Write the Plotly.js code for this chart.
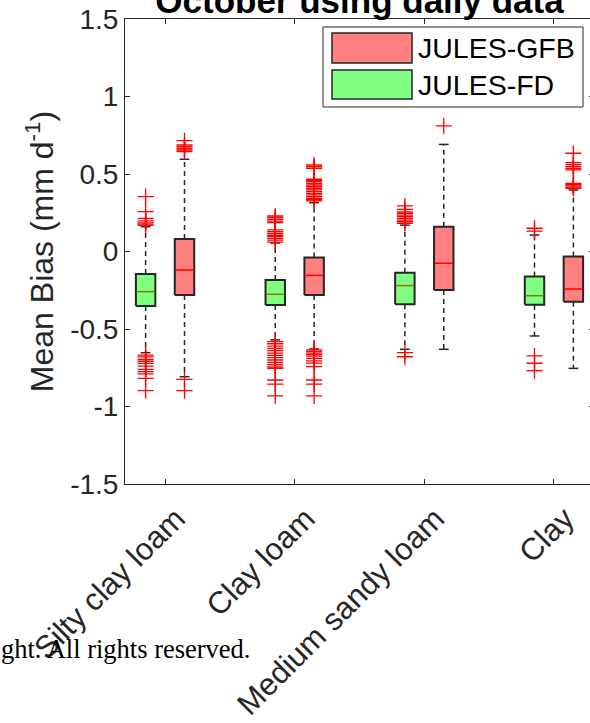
<!DOCTYPE html>
<html>
<head>
<meta charset="utf-8">
<script src="https://cdn.plot.ly/plotly-3.0.1.min.js"></script>
<style>
  html, body { margin: 0; padding: 0; overflow: hidden; background: #fff; width: 590px; height: 723px; }
  #chart { position: absolute; left: 0; top: -40px; width: 594px; height: 763px; }
</style>
</head>
<body>
<div id="chart"></div>
<script>
// ---------- data ----------
const categories = ['Silty clay loam', 'Clay loam', 'Medium sandy loam', 'Clay'];
const seriesNames = ['JULES-GFB', 'JULES-FD'];
const yTickVals = [-1.5, -1, -0.5, 0, 0.5, 1, 1.5];
const yTickText = ['-1.5', '-1', '-0.5', '0', '0.5', '1', '1.5'];

// JULES-GFB (red boxes)
const gfbQ1 = [-0.281, -0.281, -0.248, -0.324];
const gfbMedian = [-0.119, -0.154, -0.076, -0.242];
const gfbQ3 = [0.081, -0.038, 0.160, -0.033];
const gfbLowWhisker = [-0.808, -0.629, -0.631, -0.754];
const gfbHighWhisker = [0.595, 0.315, 0.691, 0.397];
const gfbOutliers = [
  [0.715, 0.687, 0.676, 0.666, 0.655, 0.644, -0.825, -0.898],
  [0.558, 0.547, 0.537, 0.466, 0.458, 0.451, 0.440, 0.429, 0.418, 0.408, 0.397, 0.386, 0.375, 0.365, 0.354, 0.343, 0.334, 0.326,
   -0.635, -0.645, -0.655, -0.665, -0.675, -0.690, -0.705, -0.720, -0.743, -0.829, -0.855, -0.932],
  [0.810],
  [0.634, 0.573, 0.560, 0.547, 0.536, 0.526, 0.440, 0.432, 0.423, 0.415, 0.408]
];

// JULES-FD (green boxes)
const fdQ1 = [-0.352, -0.345, -0.341, -0.343];
const fdMedian = [-0.259, -0.276, -0.220, -0.285];
const fdQ3 = [-0.145, -0.184, -0.137, -0.162];
const fdLowWhisker = [-0.653, -0.570, -0.631, -0.545];
const fdHighWhisker = [0.160, 0.055, 0.170, 0.106];
const fdOutliers = [
  [0.354, 0.257, 0.214, 0.197, 0.185, 0.177, 0.168,
   -0.668, -0.680, -0.696, -0.708, -0.722, -0.740, -0.760, -0.775, -0.790, -0.818, -0.898],
  [0.229, 0.220, 0.208, 0.196, 0.186, 0.139, 0.128, 0.117, 0.105, 0.096, 0.085, 0.074, 0.061,
   -0.582, -0.595, -0.610, -0.625, -0.640, -0.655, -0.670, -0.685, -0.700, -0.715, -0.730, -0.745, -0.754, -0.829, -0.855, -0.932],
  [0.294, 0.272, 0.255, 0.246, 0.235, 0.225, 0.214, 0.203, 0.192, 0.182, -0.653, -0.679],
  [0.150, 0.132, -0.674, -0.721, -0.769]
];

// ---------- styling ----------
const FONT = '"Liberation Sans", Arial, Helvetica, sans-serif';
const AX = '#262626';
const series = [
  { name: seriesNames[0], q1: gfbQ1, med: gfbMedian, q3: gfbQ3, lo: gfbLowWhisker, hi: gfbHighWhisker, out: gfbOutliers,
    offset: 0.15, fill: '#FF8080', medColor: '#FF0000' },
  { name: seriesNames[1], q1: fdQ1, med: fdMedian, q3: fdQ3, lo: fdLowWhisker, hi: fdHighWhisker, out: fdOutliers,
    offset: -0.15, fill: '#80FF80', medColor: '#808000' }
];
const boxW = 0.15, capW = 0.075;

const traces = [];
series.forEach(s => {
  categories.forEach((c, i) => {
    const x = i + 1 + s.offset;
    // dashed whiskers
    traces.push({ type: 'scatter', mode: 'lines', x: [x, x, null, x, x], y: [s.q3[i], s.hi[i], null, s.q1[i], s.lo[i]],
      line: { color: AX, width: 1.5, dash: '5px,4px' }, hoverinfo: 'skip', showlegend: false });
    // whisker caps
    traces.push({ type: 'scatter', mode: 'lines', x: [x - capW / 2, x + capW / 2, null, x - capW / 2, x + capW / 2],
      y: [s.hi[i], s.hi[i], null, s.lo[i], s.lo[i]], line: { color: AX, width: 1.5 }, hoverinfo: 'skip', showlegend: false });
    // box
    traces.push({ type: 'scatter', mode: 'lines', fill: 'toself', fillcolor: s.fill,
      x: [x - boxW / 2, x + boxW / 2, x + boxW / 2, x - boxW / 2, x - boxW / 2],
      y: [s.q1[i], s.q1[i], s.q3[i], s.q3[i], s.q1[i]],
      line: { color: AX, width: 2 }, hoverinfo: 'skip', showlegend: false });
    // median
    traces.push({ type: 'scatter', mode: 'lines', x: [x - boxW / 2 + 0.004, x + boxW / 2 - 0.004], y: [s.med[i], s.med[i]],
      line: { color: s.medColor, width: 1.5 }, hoverinfo: 'skip', showlegend: false });
    // outliers
    traces.push({ type: 'scatter', mode: 'markers', x: s.out[i].map(() => x), y: s.out[i],
      marker: { symbol: 'cross-thin', size: 11.5, color: '#FF0000', line: { color: '#FF0000', width: 1.3 } },
      hoverinfo: 'skip', showlegend: false });
  });
});

// legend drawn in paper coordinates
const px = v => (v - 125) / 469;
const py = v => (484 - v) / 465;
const shapes = [
  { type: 'rect', xref: 'paper', yref: 'paper', x0: px(323), x1: px(583), y0: py(107), y1: py(27),
    fillcolor: '#FFFFFF', line: { color: AX, width: 1 } },
  { type: 'rect', xref: 'paper', yref: 'paper', x0: px(332), x1: px(412), y0: py(63), y1: py(33),
    fillcolor: series[0].fill, line: { color: AX, width: 1.5 } },
  { type: 'rect', xref: 'paper', yref: 'paper', x0: px(332), x1: px(412), y0: py(99), y1: py(70),
    fillcolor: series[1].fill, line: { color: AX, width: 1.5 } }
];
const annotations = [
  { text: series[0].name, xref: 'paper', yref: 'paper', x: px(416), y: py(48), xanchor: 'left', yanchor: 'middle',
    showarrow: false, font: { family: FONT, size: 28.5, color: '#000' } },
  { text: series[1].name, xref: 'paper', yref: 'paper', x: px(416), y: py(84.5), xanchor: 'left', yanchor: 'middle',
    showarrow: false, font: { family: FONT, size: 28.5, color: '#000' } },
  { text: 'ght. All rights reserved.', xref: 'paper', yref: 'paper', x: px(-1), y: py(649), xanchor: 'left', yanchor: 'middle',
    showarrow: false, font: { family: '"Liberation Serif", "Times New Roman", serif', size: 26.5, color: '#000' } }
];

const layout = {
  width: 594, height: 763,
  margin: { l: 125, r: 0, t: 59, b: 239, pad: 0 },
  paper_bgcolor: '#FFFFFF', plot_bgcolor: '#FFFFFF',
  font: { family: FONT, color: AX },
  showlegend: false,
  title: { text: '<b>October using daily data</b>', font: { family: FONT, size: 35, color: '#000' },
    xref: 'paper', x: 0.5, xanchor: 'center', yref: 'paper', y: 1, yanchor: 'bottom', pad: { b: 6 } },
  xaxis: {
    range: [0.691, 4.309], tickvals: [1, 2, 3, 4], ticktext: categories, tickangle: -45,
    ticks: 'inside', ticklen: 5, tickcolor: AX, tickwidth: 1,
    showline: true, linecolor: AX, linewidth: 1, mirror: 'ticks', showgrid: false, zeroline: false,
    tickfont: { family: FONT, size: 31, color: AX }, ticklabelshift: 11, ticklabelstandoff: 3
  },
  yaxis: {
    range: [-1.5, 1.5], tickvals: yTickVals, ticktext: yTickText,
    ticks: 'inside', ticklen: 5, tickcolor: AX, tickwidth: 1,
    showline: true, linecolor: AX, linewidth: 1, mirror: 'ticks', showgrid: false, zeroline: false,
    tickfont: { family: FONT, size: 28, color: AX },
    title: { text: 'Mean Bias (mm d<sup>-1</sup>)', font: { family: FONT, size: 32, color: AX }, standoff: 6 }
  },
  shapes: shapes,
  annotations: annotations
};

Plotly.newPlot('chart', traces, layout, { staticPlot: true, displayModeBar: false });
</script>
</body>
</html>
